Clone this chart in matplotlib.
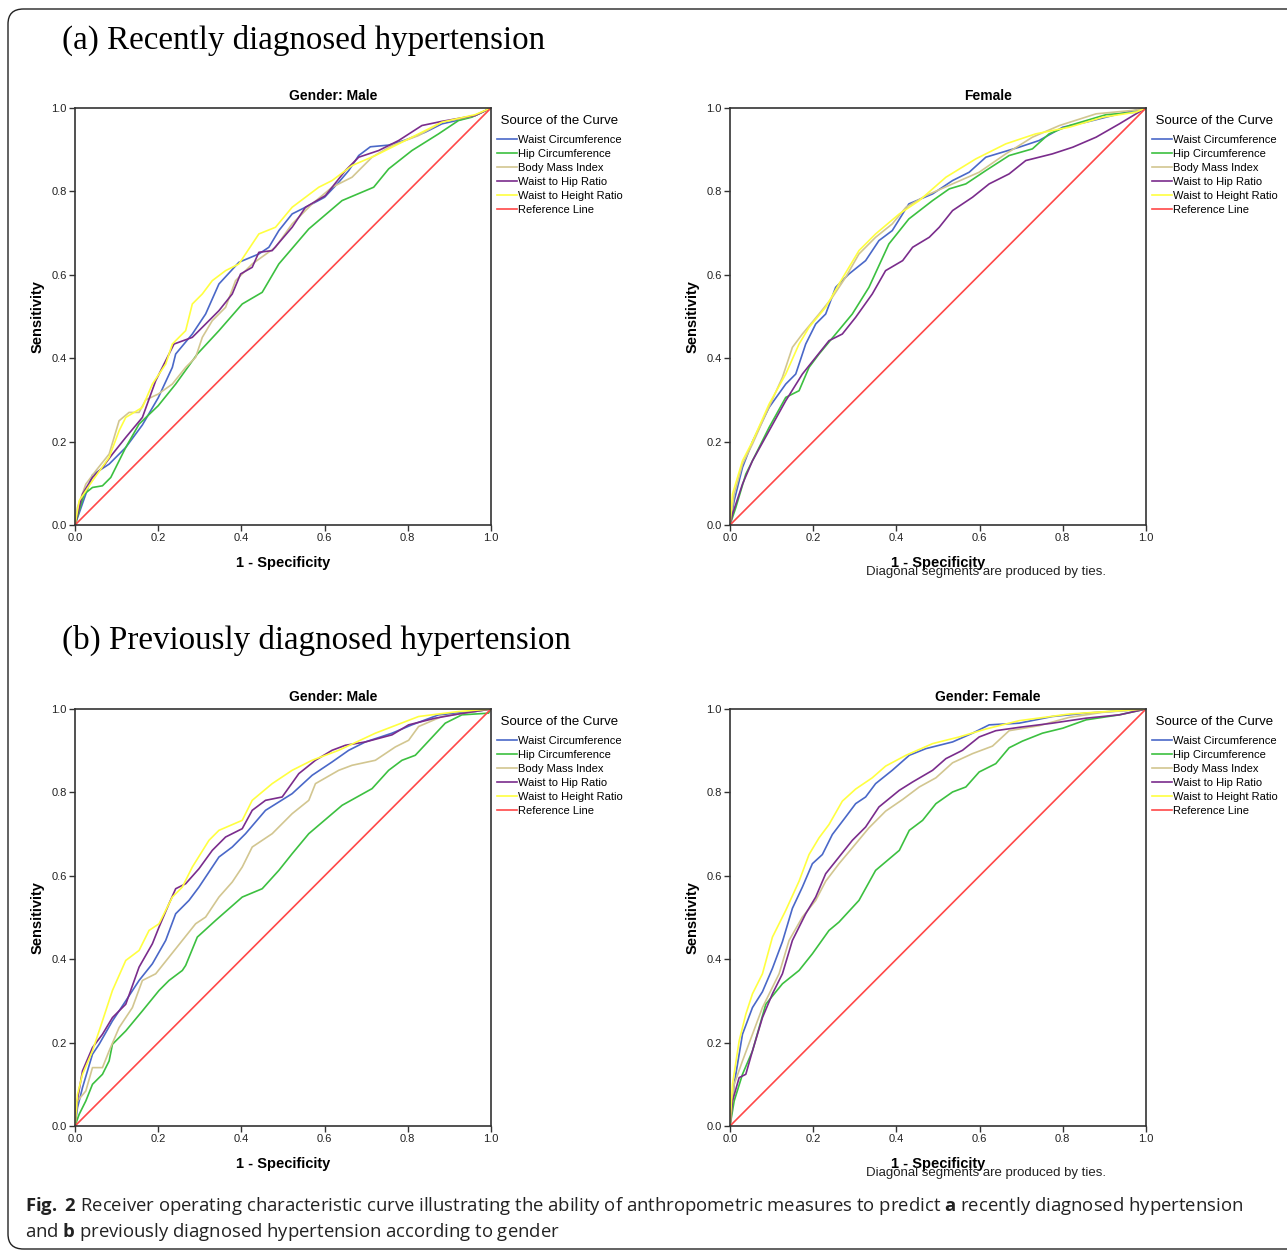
import matplotlib
matplotlib.use('Agg')
import matplotlib.pyplot as plt
from matplotlib.patches import FancyBboxPatch

# +
# data: ROC points (1 - specificity, sensitivity)
# -
LABELS = ['Waist Circumference', 'Hip Circumference', 'Body Mass Index',
          'Waist to Hip Ratio', 'Waist to Height Ratio', 'Reference Line']
COLORS = ['#4a68c8', '#3cc040', '#d2c690', '#7a2c8c', '#ffff40', '#ff4848']
TICKS = [0.0, 0.2, 0.4, 0.6, 0.8, 1.0]

# (a) recently diagnosed, male
a_male_wc = [(0, 0), (0.042, 0.12), (0.082, 0.146), (0.122, 0.186), (0.162, 0.24), (0.2, 0.305),
             (0.234, 0.378), (0.242, 0.41), (0.282, 0.458), (0.314, 0.506), (0.346, 0.578),
             (0.394, 0.63), (0.442, 0.65), (0.466, 0.666), (0.49, 0.706), (0.522, 0.746),
             (0.57, 0.77), (0.6, 0.786), (0.634, 0.822), (0.658, 0.85), (0.682, 0.886),
             (0.71, 0.907), (0.754, 0.911), (0.794, 0.923), (0.842, 0.942), (0.882, 0.962),
             (0.922, 0.971), (0.962, 0.982), (1, 1)]
a_male_hc = [(0, 0), (0.01, 0.034), (0.022, 0.074), (0.042, 0.09), (0.066, 0.094), (0.086, 0.114),
             (0.122, 0.186), (0.154, 0.242), (0.2, 0.286), (0.242, 0.338), (0.294, 0.41),
             (0.346, 0.466), (0.402, 0.53), (0.45, 0.558), (0.49, 0.626), (0.562, 0.71),
             (0.642, 0.778), (0.718, 0.81), (0.754, 0.854), (0.81, 0.898), (0.874, 0.938),
             (0.922, 0.97), (0.954, 0.978), (1, 1)]
a_male_bmi = [(0, 0), (0.006, 0.042), (0.026, 0.098), (0.05, 0.13), (0.082, 0.17), (0.106, 0.25),
              (0.13, 0.27), (0.154, 0.27), (0.17, 0.3), (0.2, 0.314), (0.234, 0.338), (0.266, 0.378),
              (0.29, 0.402), (0.306, 0.45), (0.33, 0.49), (0.362, 0.522), (0.386, 0.586),
              (0.426, 0.626), (0.482, 0.666), (0.522, 0.722), (0.57, 0.77), (0.618, 0.81),
              (0.666, 0.834), (0.714, 0.882), (0.762, 0.91), (0.826, 0.934), (0.882, 0.966),
              (0.962, 0.982), (1, 1)]
a_male_whr = [(0, 0), (0.018, 0.074), (0.042, 0.114), (0.066, 0.138), (0.09, 0.17), (0.122, 0.21),
              (0.162, 0.258), (0.194, 0.346), (0.226, 0.41), (0.238, 0.434), (0.282, 0.45),
              (0.314, 0.482), (0.346, 0.514), (0.378, 0.554), (0.398, 0.602), (0.426, 0.618),
              (0.442, 0.654), (0.474, 0.658), (0.522, 0.714), (0.554, 0.762), (0.602, 0.79),
              (0.65, 0.85), (0.682, 0.882), (0.73, 0.898), (0.778, 0.922), (0.834, 0.958),
              (0.882, 0.968), (0.962, 0.982), (1, 1)]
a_male_whtr = [(0, 0), (0.01, 0.058), (0.042, 0.106), (0.082, 0.162), (0.106, 0.226), (0.122, 0.258),
               (0.162, 0.282), (0.186, 0.338), (0.218, 0.386), (0.234, 0.434), (0.266, 0.466),
               (0.282, 0.53), (0.306, 0.554), (0.33, 0.586), (0.362, 0.61), (0.394, 0.626),
               (0.442, 0.698), (0.482, 0.714), (0.522, 0.762), (0.586, 0.81), (0.618, 0.826),
               (0.666, 0.862), (0.722, 0.886), (0.802, 0.926), (0.882, 0.966), (0.962, 0.984), (1, 1)]

# (a) recently diagnosed, female
a_female_wc = [(0, 0), (0.01, 0.058), (0.03, 0.138), (0.054, 0.2), (0.094, 0.282), (0.134, 0.338),
               (0.158, 0.362), (0.182, 0.434), (0.206, 0.482), (0.23, 0.506), (0.254, 0.57),
               (0.286, 0.602), (0.326, 0.634), (0.358, 0.682), (0.39, 0.706), (0.43, 0.77),
               (0.487, 0.794), (0.535, 0.826), (0.575, 0.846), (0.615, 0.882), (0.695, 0.906),
               (0.743, 0.922), (0.8, 0.954), (0.856, 0.966), (0.936, 0.986), (1, 1)]
a_female_hc = [(0, 0), (0.014, 0.042), (0.038, 0.122), (0.062, 0.17), (0.094, 0.234), (0.134, 0.306),
               (0.166, 0.322), (0.19, 0.378), (0.214, 0.41), (0.254, 0.458), (0.294, 0.506),
               (0.334, 0.57), (0.382, 0.674), (0.43, 0.734), (0.487, 0.778), (0.527, 0.806),
               (0.567, 0.818), (0.615, 0.85), (0.671, 0.886), (0.727, 0.902), (0.767, 0.938),
               (0.816, 0.958), (0.904, 0.984), (0.976, 0.99), (1, 1)]
a_female_bmi = [(0, 0), (0.01, 0.074), (0.03, 0.146), (0.054, 0.194), (0.086, 0.266), (0.126, 0.354),
                (0.15, 0.426), (0.174, 0.458), (0.214, 0.506), (0.246, 0.546), (0.278, 0.594),
                (0.31, 0.65), (0.35, 0.69), (0.39, 0.722), (0.423, 0.762), (0.471, 0.79),
                (0.535, 0.818), (0.599, 0.846), (0.663, 0.89), (0.727, 0.93), (0.792, 0.958),
                (0.88, 0.986), (0.976, 0.995), (1, 1)]
a_female_whr = [(0, 0), (0.006, 0.026), (0.03, 0.098), (0.054, 0.154), (0.094, 0.226), (0.134, 0.298),
                (0.174, 0.362), (0.206, 0.402), (0.238, 0.442), (0.27, 0.458), (0.302, 0.498),
                (0.342, 0.554), (0.374, 0.61), (0.415, 0.634), (0.439, 0.666), (0.479, 0.69),
                (0.503, 0.714), (0.535, 0.754), (0.583, 0.786), (0.623, 0.818), (0.671, 0.842),
                (0.711, 0.874), (0.775, 0.89), (0.824, 0.906), (0.88, 0.93), (0.936, 0.962),
                (0.976, 0.986), (1, 1)]
a_female_whtr = [(0, 0), (0.006, 0.074), (0.03, 0.154), (0.054, 0.2), (0.094, 0.29), (0.134, 0.362),
                 (0.166, 0.434), (0.19, 0.474), (0.23, 0.522), (0.262, 0.578), (0.31, 0.658),
                 (0.35, 0.698), (0.407, 0.746), (0.455, 0.778), (0.519, 0.834), (0.591, 0.878),
                 (0.663, 0.914), (0.735, 0.938), (0.816, 0.954), (0.896, 0.978), (0.976, 0.99), (1, 1)]

# (b) previously diagnosed, male
b_male_wc = [(0, 0), (0.006, 0.044), (0.018, 0.092), (0.042, 0.172), (0.058, 0.196), (0.09, 0.252),
             (0.122, 0.3), (0.154, 0.349), (0.186, 0.389), (0.218, 0.445), (0.242, 0.509),
             (0.274, 0.541), (0.298, 0.573), (0.346, 0.645), (0.378, 0.669), (0.41, 0.701),
             (0.458, 0.757), (0.522, 0.797), (0.57, 0.841), (0.618, 0.873), (0.658, 0.901),
             (0.698, 0.921), (0.762, 0.942), (0.81, 0.962), (0.874, 0.986), (0.962, 0.994), (1, 1)]
b_male_hc = [(0, 0), (0.01, 0.028), (0.026, 0.06), (0.042, 0.1), (0.066, 0.124), (0.082, 0.156),
             (0.09, 0.196), (0.122, 0.228), (0.162, 0.276), (0.202, 0.325), (0.226, 0.349),
             (0.258, 0.373), (0.266, 0.385), (0.294, 0.453), (0.338, 0.493), (0.402, 0.549),
             (0.45, 0.569), (0.49, 0.613), (0.522, 0.653), (0.562, 0.701), (0.642, 0.769),
             (0.714, 0.809), (0.754, 0.853), (0.786, 0.877), (0.818, 0.889), (0.89, 0.966),
             (0.93, 0.986), (0.994, 0.99), (1, 1)]
b_male_bmi = [(0, 0), (0.006, 0.06), (0.026, 0.084), (0.042, 0.14), (0.066, 0.14), (0.082, 0.18),
              (0.106, 0.236), (0.138, 0.284), (0.162, 0.349), (0.194, 0.365), (0.226, 0.405),
              (0.258, 0.445), (0.29, 0.485), (0.314, 0.501), (0.346, 0.549), (0.378, 0.585),
              (0.402, 0.621), (0.426, 0.669), (0.474, 0.701), (0.522, 0.749), (0.562, 0.781),
              (0.578, 0.821), (0.634, 0.853), (0.666, 0.865), (0.722, 0.877), (0.77, 0.909),
              (0.802, 0.925), (0.826, 0.958), (0.882, 0.982), (0.962, 0.994), (1, 1)]
b_male_whr = [(0, 0), (0.004, 0.052), (0.018, 0.132), (0.042, 0.188), (0.066, 0.22), (0.09, 0.26),
              (0.122, 0.292), (0.154, 0.381), (0.186, 0.437), (0.202, 0.477), (0.226, 0.533),
              (0.242, 0.569), (0.266, 0.581), (0.298, 0.617), (0.33, 0.661), (0.362, 0.693),
              (0.402, 0.713), (0.426, 0.757), (0.458, 0.781), (0.498, 0.789), (0.538, 0.845),
              (0.578, 0.877), (0.618, 0.901), (0.65, 0.913), (0.698, 0.921), (0.762, 0.938),
              (0.802, 0.962), (0.866, 0.978), (0.922, 0.988), (1, 1)]
b_male_whtr = [(0, 0), (0.006, 0.076), (0.018, 0.124), (0.042, 0.18), (0.066, 0.252), (0.09, 0.325),
               (0.122, 0.397), (0.154, 0.421), (0.178, 0.469), (0.202, 0.485), (0.234, 0.549),
               (0.258, 0.573), (0.282, 0.621), (0.322, 0.685), (0.346, 0.709), (0.402, 0.733),
               (0.426, 0.781), (0.474, 0.821), (0.522, 0.853), (0.57, 0.877), (0.634, 0.901),
               (0.722, 0.942), (0.826, 0.982), (0.922, 0.994), (1, 1)]

# (b) previously diagnosed, female
b_female_wc = [(0, 0), (0.01, 0.1), (0.03, 0.22), (0.054, 0.284), (0.078, 0.322), (0.102, 0.378),
               (0.126, 0.442), (0.15, 0.522), (0.174, 0.573), (0.198, 0.629), (0.222, 0.651),
               (0.246, 0.699), (0.278, 0.741), (0.302, 0.773), (0.326, 0.789), (0.35, 0.821),
               (0.39, 0.853), (0.431, 0.889), (0.471, 0.905), (0.535, 0.921), (0.583, 0.942),
               (0.623, 0.962), (0.695, 0.966), (0.775, 0.982), (0.856, 0.99), (1, 1)]
b_female_hc = [(0, 0), (0.01, 0.06), (0.03, 0.124), (0.054, 0.18), (0.086, 0.292), (0.126, 0.341),
               (0.166, 0.373), (0.198, 0.413), (0.238, 0.469), (0.262, 0.489), (0.31, 0.541),
               (0.35, 0.613), (0.407, 0.661), (0.431, 0.709), (0.463, 0.733), (0.495, 0.773),
               (0.535, 0.801), (0.567, 0.813), (0.599, 0.849), (0.639, 0.869), (0.671, 0.907),
               (0.703, 0.923), (0.751, 0.942), (0.8, 0.954), (0.856, 0.974), (0.936, 0.986), (1, 1)]
b_female_bmi = [(0, 0), (0.01, 0.1), (0.03, 0.156), (0.054, 0.22), (0.078, 0.284), (0.118, 0.365),
                (0.142, 0.445), (0.174, 0.501), (0.206, 0.541), (0.23, 0.587), (0.262, 0.629),
                (0.294, 0.667), (0.334, 0.715), (0.374, 0.755), (0.415, 0.783), (0.455, 0.813),
                (0.495, 0.835), (0.535, 0.871), (0.583, 0.893), (0.631, 0.911), (0.671, 0.948),
                (0.743, 0.96), (0.816, 0.98), (0.896, 0.992), (1, 1)]
b_female_whr = [(0, 0), (0.006, 0.06), (0.022, 0.116), (0.038, 0.124), (0.054, 0.18), (0.078, 0.26),
                (0.102, 0.317), (0.126, 0.365), (0.15, 0.445), (0.182, 0.509), (0.206, 0.549),
                (0.23, 0.605), (0.262, 0.645), (0.294, 0.685), (0.326, 0.717), (0.358, 0.765),
                (0.407, 0.805), (0.439, 0.825), (0.487, 0.853), (0.519, 0.881), (0.559, 0.901),
                (0.599, 0.933), (0.639, 0.948), (0.695, 0.956), (0.775, 0.966), (0.856, 0.978),
                (0.936, 0.986), (1, 1)]
b_female_whtr = [(0, 0), (0.006, 0.1), (0.022, 0.204), (0.038, 0.268), (0.054, 0.317), (0.078, 0.365),
                 (0.102, 0.453), (0.134, 0.517), (0.166, 0.587), (0.19, 0.651), (0.214, 0.691),
                 (0.238, 0.723), (0.27, 0.779), (0.302, 0.808), (0.342, 0.835), (0.374, 0.863),
                 (0.423, 0.889), (0.487, 0.917), (0.551, 0.933), (0.615, 0.952), (0.695, 0.972),
                 (0.816, 0.988), (0.936, 0.996), (1, 1)]

reference = [(0, 0), (1, 1)]

PANELS = [
    ('Gender: Male', [a_male_wc, a_male_hc, a_male_bmi, a_male_whr, a_male_whtr], False),
    ('Female', [a_female_wc, a_female_hc, a_female_bmi, a_female_whr, a_female_whtr], True),
    ('Gender: Male', [b_male_wc, b_male_hc, b_male_bmi, b_male_whr, b_male_whtr], False),
    ('Gender: Female', [b_female_wc, b_female_hc, b_female_bmi, b_female_whr, b_female_whtr], True),
]

CAPTION_1 = (r'$\bf{Fig.}$ $\bf{2}$ Receiver operating characteristic curve illustrating the ability of '
             r'anthropometric measures to predict $\bf{a}$ recently diagnosed hypertension')
CAPTION_2 = r'and $\bf{b}$ previously diagnosed hypertension according to gender'

# axes rectangles in figure fractions (left, bottom, width, height)
W, H = 1287.0, 1252.0
RECTS = [
    (75 / W, 1 - 525 / H, 416 / W, 417 / H),
    (730 / W, 1 - 525 / H, 416 / W, 417 / H),
    (75 / W, 1 - 1126 / H, 416 / W, 417 / H),
    (730 / W, 1 - 1126 / H, 416 / W, 417 / H),
]

plt.rcParams['font.family'] = ['Liberation Sans', 'DejaVu Sans']
plt.rcParams['mathtext.fontset'] = 'custom'
plt.rcParams['mathtext.rm'] = 'Open Sans'
plt.rcParams['mathtext.bf'] = 'Open Sans:bold'

fig = plt.figure(figsize=(W / 100, H / 100), dpi=100)

# rounded frame around the whole figure
frame = FancyBboxPatch((8 / W, 3 / H), 1.02 - 8 / W, 1 - 12 / H,
                       boxstyle='round,pad=0,rounding_size=0.012',
                       transform=fig.transFigure, fill=False, ec='#222222', lw=1.0)
fig.patches.append(frame)

# section headings
fig.text(62 / W, 1 - 40 / H, '(a) Recently diagnosed hypertension', family='Liberation Serif',
         fontsize=23.8, va='center', ha='left')
fig.text(62 / W, 1 - 640 / H, '(b) Previously diagnosed hypertension', family='Liberation Serif',
         fontsize=23.8, va='center', ha='left')

for (title, curves, ties_note), rect in zip(PANELS, RECTS):
    ax = fig.add_axes(rect)
    for pts, lab, col in zip(curves, LABELS, COLORS):
        xs, ys = zip(*pts)
        ax.plot(xs, ys, color=col, lw=1.2, label=lab)
    xs, ys = zip(*reference)
    ax.plot(xs, ys, color=COLORS[5], lw=1.2, label=LABELS[5])

    ax.set_xlim(0, 1)
    ax.set_ylim(0, 1)
    ax.set_xticks(TICKS)
    ax.set_yticks(TICKS)
    ax.set_xticklabels([f'{t:.1f}' for t in TICKS])
    ax.set_yticklabels([f'{t:.1f}' for t in TICKS])
    ax.tick_params(direction='out', length=4, width=1, colors='#333333',
                   labelsize=8, labelcolor='#222222', pad=2)
    for sp in ax.spines.values():
        sp.set_color('#333333')
        sp.set_linewidth(1.2)
    # SPSS centres the title over plot + legend
    ax.set_title(title, fontsize=10, fontweight='bold', pad=6, x=0.62)
    ax.set_xlabel('1 - Specificity', fontsize=10.5, fontweight='bold', labelpad=9)
    ax.set_ylabel('Sensitivity', fontsize=10.5, fontweight='bold', labelpad=5)

    leg = ax.legend(loc='upper left', bbox_to_anchor=(1.003, 0.995), frameon=False,
                    title=' Source of the Curve', title_fontsize=9.5, fontsize=8,
                    handlelength=1.8, handletextpad=0.15, labelspacing=0.36,
                    borderaxespad=0.2, borderpad=0.2)
    leg._legend_box.align = 'left'
    leg._legend_box.sep = 6

    if ties_note:
        ax.text(0.615, -0.112, 'Diagonal segments are produced by ties.', transform=ax.transAxes,
                ha='center', va='center', fontsize=9.5, color='#222222')

# caption, sized so that line 1 spans the same width as in the figure
cap1 = fig.text(25 / W, 1 - 1206 / H, CAPTION_1, fontsize=12, va='center',
                family=['Open Sans', 'DejaVu Sans'], color='#222222')
renderer = fig.canvas.get_renderer()
w1 = cap1.get_window_extent(renderer).width
cap_size = 12 * 1215.0 / w1
cap1.set_fontsize(cap_size)
fig.text(25 / W, 1 - 1232 / H, CAPTION_2, fontsize=cap_size, va='center',
         family=['Open Sans', 'DejaVu Sans'], color='#222222')

fig.savefig('out.png', dpi=100)
